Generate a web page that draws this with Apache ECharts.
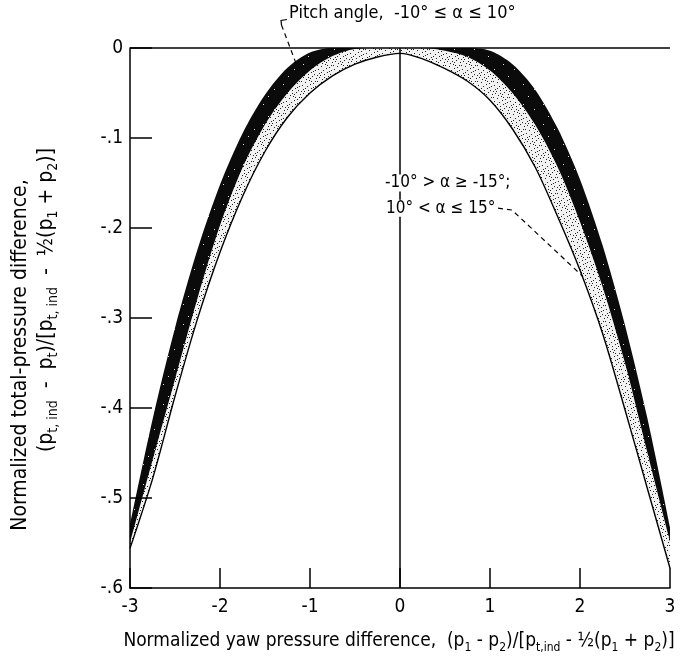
<!DOCTYPE html>
<html>
<head>
<meta charset="utf-8">
<script src="https://cdn.jsdelivr.net/npm/echarts@6.0.0/dist/echarts.min.js"></script>
<style>
  html, body { margin: 0; background: #fff; }
  #chart { width: 684px; height: 670px; }
</style>
</head>
<body>
<div id="chart"></div>
<script>
const xs = [-3, -2.75, -2.5, -2.25, -2, -1.75, -1.5, -1.25, -1, -0.75, -0.5, -0.25, 0,
            0.25, 0.5, 0.75, 1, 1.25, 1.5, 1.75, 2, 2.25, 2.5, 2.75, 3];
// outer edge of the black band (pitch -10..10 deg)
const outerEdge = [-0.530, -0.413, -0.311, -0.224, -0.152, -0.095, -0.052, -0.022, -0.005, 0, 0, 0, 0,
                   0, 0, 0, -0.003, -0.018, -0.046, -0.089, -0.146, -0.219, -0.308, -0.412, -0.532];
// boundary between black band and stippled band
const innerEdge = [-0.550, -0.458, -0.368, -0.278, -0.197, -0.133, -0.085, -0.050, -0.025, -0.009, -0.001, 0, 0,
                   0, -0.003, -0.010, -0.025, -0.050, -0.085, -0.132, -0.193, -0.265, -0.350, -0.450, -0.548];
// lower thin line (stippled band, 10..15 deg)
const lowerEdge = [-0.556, -0.479, -0.387, -0.301, -0.227, -0.165, -0.115, -0.077, -0.050, -0.031, -0.018, -0.010, -0.006,
                   -0.012, -0.023, -0.037, -0.058, -0.090, -0.132, -0.187, -0.247, -0.317, -0.402, -0.490, -0.578];
const yTickLabels = ['-.6', '-.5', '-.4', '-.3', '-.2', '-.1', '0'];
const xTickLabels = ['-3', '-2', '-1', '0', '1', '2', '3'];

const FONT = '"Liberation Sans Narrow", "DejaVu Sans Condensed", "Liberation Sans", sans-serif';

function makePattern(size, bg, dotColor, dots) {
  const c = document.createElement('canvas');
  c.width = size; c.height = size;
  const g = c.getContext('2d');
  g.fillStyle = bg;
  g.fillRect(0, 0, size, size);
  g.fillStyle = dotColor;
  dots.forEach(function (d) { g.fillRect(d[0], d[1], 1, 1); });
  return c;
}
const stipple = makePattern(16, '#f2f2f2', '#222', [
  [1, 2], [5, 0], [9, 3], [13, 1], [3, 6], [7, 8], [11, 6], [15, 9], [0, 11], [4, 13],
  [8, 12], [12, 14], [2, 15], [6, 4], [10, 10], [14, 5], [1, 8], [6, 14], [11, 1], [15, 13],
  [4, 10], [9, 7], [13, 11], [7, 1]
]);
const speckled = makePattern(20, '#0b0b0b', '#ddd', [[3, 4], [14, 9], [8, 16]]);

const chart = echarts.init(document.getElementById('chart'));

const sub = { fontSize: 12, lineHeight: 13, verticalAlign: 'bottom', fontFamily: FONT, fill: '#000' };
const txt = { fontSize: 19, lineHeight: 25, fontFamily: FONT, fill: '#000' };
const subY = { fontSize: 14, lineHeight: 14, verticalAlign: 'bottom', fontFamily: FONT, fill: '#000' };
const txtY = { fontSize: 21, lineHeight: 27, fontFamily: FONT, fill: '#000' };

function band(name, values, area, extra) {
  return Object.assign({
    name: name, type: 'line', smooth: 0.3, symbol: 'none', z: 2,
    data: xs.map(function (x, i) { return [x, values[i]]; }),
    lineStyle: { width: 0, opacity: 0 },
    areaStyle: { origin: 'start', color: area, opacity: 1 }
  }, extra || {});
}

const option = {
  animation: false,
  backgroundColor: '#fff',
  grid: { left: 130, right: 14, top: 48, bottom: 82 },
  xAxis: {
    type: 'value', min: -3, max: 3, interval: 1, z: 10,
    axisLine: { onZero: false, lineStyle: { color: '#000', width: 1.5 } },
    axisTick: { inside: true, length: 20, lineStyle: { color: '#000', width: 1.5 } },
    axisLabel: {
      color: '#000', fontSize: 19, fontFamily: FONT, margin: 10,
      formatter: function (v) { return xTickLabels[Math.round(v) + 3]; }
    },
    splitLine: { show: false }
  },
  yAxis: {
    type: 'value', min: -0.6, max: 0, interval: 0.1, z: 10,
    axisLine: { show: true, onZero: false, lineStyle: { color: '#000', width: 1.5 } },
    axisTick: { inside: true, length: 22, lineStyle: { color: '#000', width: 1.5 } },
    axisLabel: {
      color: '#000', fontSize: 19, fontFamily: FONT, margin: 7,
      formatter: function (v) { return yTickLabels[Math.round(v * 10) + 6]; }
    },
    splitLine: { show: false }
  },
  series: [
    band('pitch -10..10', outerEdge, { image: speckled, repeat: 'repeat' }),
    band('10 < a <= 15', innerEdge, { image: stipple, repeat: 'repeat' }),
    band('lower edge', lowerEdge, '#fff', {
      lineStyle: { color: '#000', width: 1.4 },
      markLine: {
        silent: true, symbol: 'none', label: { show: false },
        lineStyle: { color: '#000', width: 1.5, type: 'solid' },
        data: [{ xAxis: 0 }, { yAxis: 0 }]
      }
    })
  ]
};
chart.setOption(option);

// annotation anchors, in data coordinates
const pitchText = [-1.233, 0.038];
const pitchHook = [[-1.256, 0.0317], [-1.322, 0.0306], [-1.317, 0.0256]];
const pitchLeader = [[-1.317, 0.0256], [-1.144, -0.020]];
const outerText1 = [-0.167, -0.150];
const outerText2 = [-0.156, -0.178];
const outerLeader = [[1.089, -0.178], [1.244, -0.180], [2.033, -0.254]];

function px(p) { return chart.convertToPixel({ gridIndex: 0 }, p); }
const dash = { stroke: '#000', lineWidth: 1.2, lineDash: [5, 4], fill: null };

chart.setOption({
  graphic: [
    {
      type: 'text', x: px(pitchText)[0], y: px(pitchText)[1], z: 50,
      style: { text: 'Pitch angle,  -10° ≤ α ≤ 10°', fontSize: 18, fontFamily: FONT, fill: '#000', align: 'left', verticalAlign: 'middle' }
    },
    { type: 'polyline', z: 50, shape: { points: pitchHook.map(px) }, style: { stroke: '#000', lineWidth: 1.2, fill: null } },
    { type: 'polyline', z: 50, shape: { points: pitchLeader.map(px) }, style: dash },
    {
      type: 'text', x: px(outerText1)[0], y: px(outerText1)[1], z: 50,
      style: { text: '-10° > α ≥ -15°;', fontSize: 17, fontFamily: FONT, fill: '#000', align: 'left', verticalAlign: 'middle', backgroundColor: '#fff' }
    },
    {
      type: 'text', x: px(outerText2)[0], y: px(outerText2)[1], z: 50,
      style: { text: '10° < α ≤ 15°', fontSize: 17, fontFamily: FONT, fill: '#000', align: 'left', verticalAlign: 'middle', backgroundColor: '#fff' }
    },
    { type: 'polyline', z: 50, shape: { points: outerLeader.map(px) }, style: dash },
    // x axis title
    {
      type: 'text', x: 399, y: 641,
      style: {
        text: '{n|Normalized yaw pressure difference,  (p}{s|1}{n| - p}{s|2}{n|)/[p}{s|t,ind}{n| - ½(p}{s|1}{n| + p}{s|2}{n|)]}',
        rich: { n: txt, s: sub }, align: 'center', verticalAlign: 'middle'
      }
    },
    // y axis title, two lines
    {
      type: 'text', x: 21, y: 355, rotation: Math.PI / 2,
      style: { text: 'Normalized total-pressure difference,', fontSize: 21, fontFamily: FONT, fill: '#000', align: 'center', verticalAlign: 'middle' }
    },
    {
      type: 'text', x: 47, y: 300, rotation: Math.PI / 2,
      style: {
        text: '{n|(p}{s|t, ind}{n|  -  p}{s|t}{n|)/[p}{s|t, ind}{n|  -  ½(p}{s|1}{n| + p}{s|2}{n|)]}',
        rich: { n: txtY, s: subY }, align: 'center', verticalAlign: 'middle'
      }
    }
  ]
});
</script>
</body>
</html>
